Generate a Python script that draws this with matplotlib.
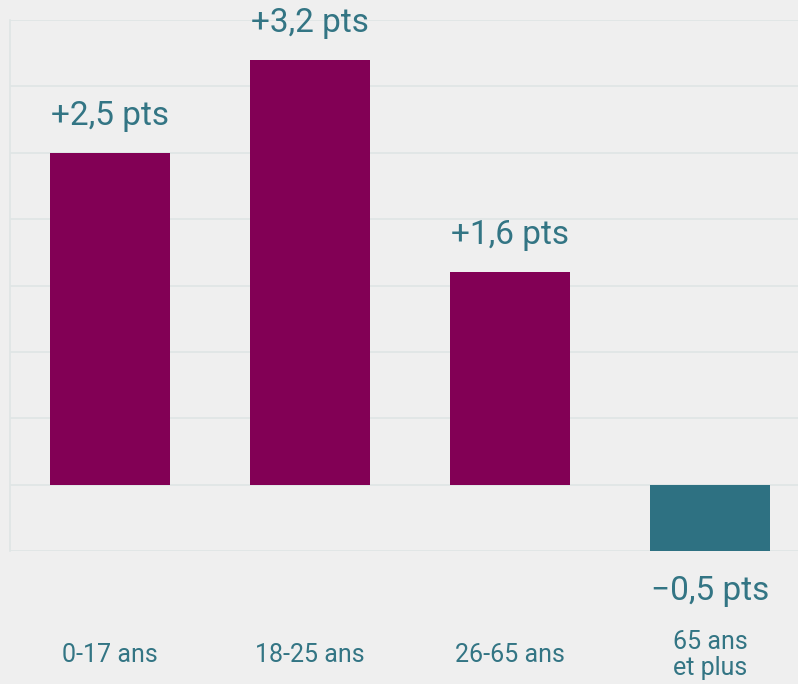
#!/usr/bin/env python3
"""Variation par tranche d'âge (en points)."""

import matplotlib.pyplot as plt

plt.rcParams.update({
    'font.family': ['Roboto', 'DejaVu Sans'],
    'figure.dpi': 100,
})

# Data
categories = ['0-17 ans', '18-25 ans', '26-65 ans', '65 ans\net plus']
values = [2.5, 3.2, 1.6, -0.5]
labels = ['+2,5 pts', '+3,2 pts', '+1,6 pts', '\u22120,5 pts']

BG = '#efefef'
GRID = '#dfe5e5'
POS = '#820055'
NEG = '#2e7182'
TXT = '#337584'

fig = plt.figure(figsize=(7.98, 6.84), facecolor=BG)
ax = fig.add_axes([10 / 798, (684 - 551) / 684, 800 / 798, 531 / 684])
ax.set_facecolor(BG)

x = list(range(len(categories)))
colors = [POS if v >= 0 else NEG for v in values]
ax.bar(x, values, width=0.6, color=colors, edgecolor='none', zorder=3)

# value labels above / below bars
for xi, v, lab in zip(x, values, labels):
    if v >= 0:
        ax.annotate(lab, xy=(xi, v), xytext=(0, 15), textcoords='offset points',
                    ha='center', va='bottom', fontsize=24, color=TXT)
    else:
        ax.annotate(lab, xy=(xi, v), xytext=(0, -17), textcoords='offset points',
                    ha='center', va='top', fontsize=24, color=TXT)

ax.set_xlim(-0.5, len(categories) - 0.5)
ax.set_ylim(-0.5, 3.5)
ax.set_yticks([i * 0.5 for i in range(-1, 8)])
ax.set_yticklabels([])
ax.grid(axis='y', color=GRID, linewidth=1.2, zorder=0)

ax.set_xticks(x)
ax.set_xticklabels(categories, fontsize=18, color=TXT, va='center',
                   multialignment='center', linespacing=1.1)
ax.tick_params(axis='x', length=0, pad=75)
ax.tick_params(axis='y', length=0)

for side in ['top', 'right', 'bottom']:
    ax.spines[side].set_visible(False)
ax.spines['left'].set_color(GRID)
ax.spines['left'].set_linewidth(1.2)

fig.savefig('out.png', dpi=100, facecolor=BG)
